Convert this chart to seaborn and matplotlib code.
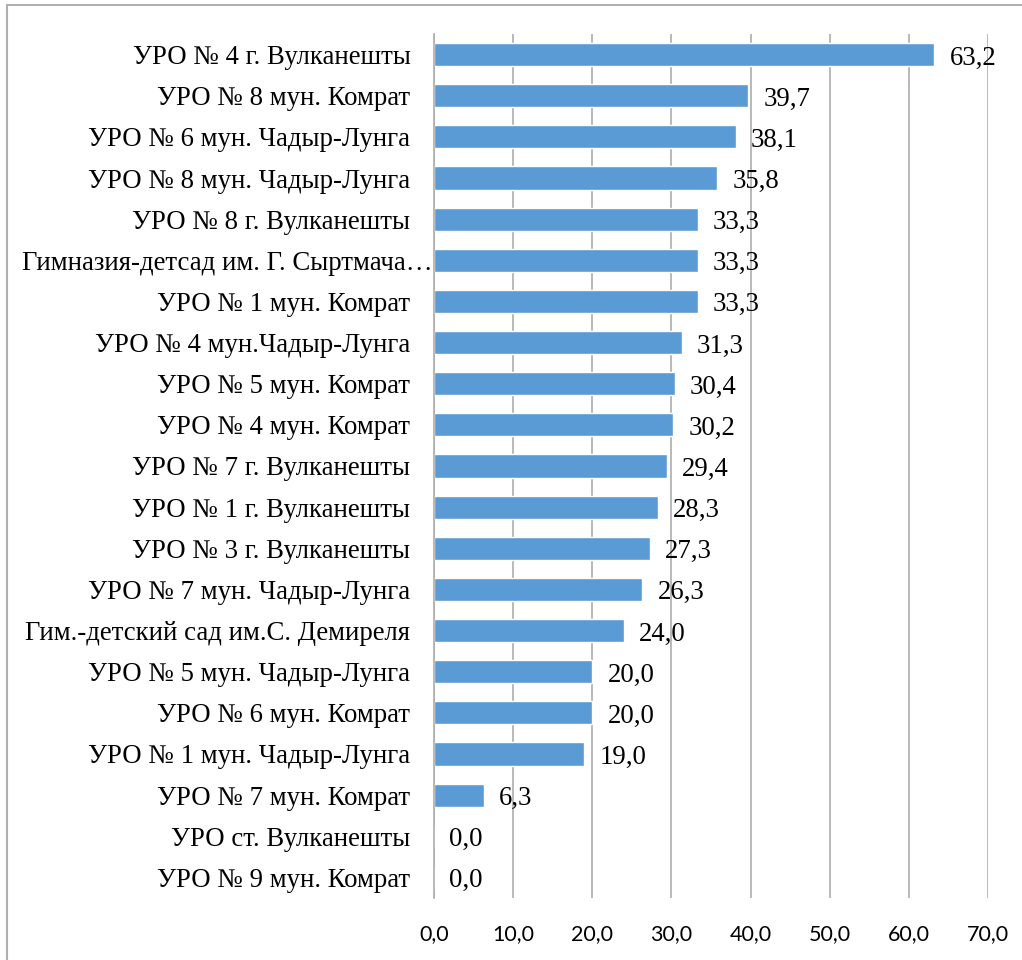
import matplotlib

matplotlib.use("Agg")
import matplotlib.pyplot as plt
import matplotlib.transforms as mtransforms
import seaborn as sns
import pandas as pd
from matplotlib.lines import Line2D

schools = [
    "УРО № 4 г. Вулканешты",
    "УРО № 8 мун. Комрат",
    "УРО № 6 мун. Чадыр-Лунга",
    "УРО № 8 мун. Чадыр-Лунга",
    "УРО № 8 г. Вулканешты",
    "Гимназия-детсад им. Г. Сыртмача…",
    "УРО № 1 мун. Комрат",
    "УРО № 4 мун.Чадыр-Лунга",
    "УРО № 5 мун. Комрат",
    "УРО № 4 мун. Комрат",
    "УРО № 7 г. Вулканешты",
    "УРО № 1 г. Вулканешты",
    "УРО № 3 г. Вулканешты",
    "УРО № 7 мун. Чадыр-Лунга",
    "Гим.-детский сад им.С. Демиреля",
    "УРО № 5 мун. Чадыр-Лунга",
    "УРО № 6 мун. Комрат",
    "УРО № 1 мун. Чадыр-Лунга",
    "УРО № 7 мун. Комрат",
    "УРО ст. Вулканешты",
    "УРО № 9 мун. Комрат",
]
values = [63.2, 39.7, 38.1, 35.8, 33.3, 33.3, 33.3, 31.3, 30.4, 30.2, 29.4,
          28.3, 27.3, 26.3, 24.0, 20.0, 20.0, 19.0, 6.3, 0.0, 0.0]
xticks = [0, 10, 20, 30, 40, 50, 60, 70]

df = pd.DataFrame({"school": schools, "value": values})

sns.set_style("white")
serif = ["Liberation Serif", "DejaVu Serif"]
sans = ["Lato", "Liberation Sans", "DejaVu Sans"]
grid_col = "#ADADAD"

fig = plt.figure(figsize=(10.22, 9.6), dpi=100)
ax = fig.add_axes([434 / 1022, 1 - 898 / 960, (988 - 434) / 1022, (898 - 34) / 960])

sns.barplot(data=df, x="value", y="school", orient="h", color="#5B9BD5",
            saturation=1, width=0.56, ax=ax, zorder=3)

ax.set_xlim(0, 70)
ax.set_xticks(xticks)
ax.set_xticklabels([f"{t:.1f}".replace(".", ",") for t in xticks],
                   family=sans, fontsize=15.5, color="black")
ax.set_yticks(range(len(schools)))
ax.set_yticklabels(schools, family=serif, fontsize=19.3, color="black")
ax.tick_params(axis="y", length=0, pad=17)
ax.tick_params(axis="x", length=0, pad=19)
ax.set_xlabel("")
ax.set_ylabel("")
ax.grid(axis="x", color=grid_col, linewidth=1.2, zorder=0)
for side in ["top", "right", "bottom"]:
    ax.spines[side].set_visible(False)
ax.spines["left"].set_color(grid_col)
ax.spines["left"].set_linewidth(1.2)
ax.spines["left"].set_zorder(4)

# the truncated long label spills past the axis, as in the original
for lbl in ax.get_yticklabels():
    if lbl.get_text().endswith("…"):
        lbl.set_transform(lbl.get_transform() + mtransforms.ScaledTranslation(
            22 / 100, 0, fig.dpi_scale_trans))

labels = [f"{v:.1f}".replace(".", ",") for v in values]
texts = ax.bar_label(ax.containers[0], labels=labels, padding=11,
                     family=serif, fontsize=19.3, color="black", zorder=5)
for t in texts:
    t.xyann = (11, -2.5)

# outer frame (left and top edges only visible)
fig.add_artist(Line2D([6.5 / 1022, 6.5 / 1022], [0, 1 - 5 / 960],
                      transform=fig.transFigure, color="#B0B0B0", linewidth=1.5))
fig.add_artist(Line2D([6.5 / 1022, 1], [1 - 5 / 960, 1 - 5 / 960],
                      transform=fig.transFigure, color="#B0B0B0", linewidth=1.5))

fig.savefig("out.png", dpi=100)
